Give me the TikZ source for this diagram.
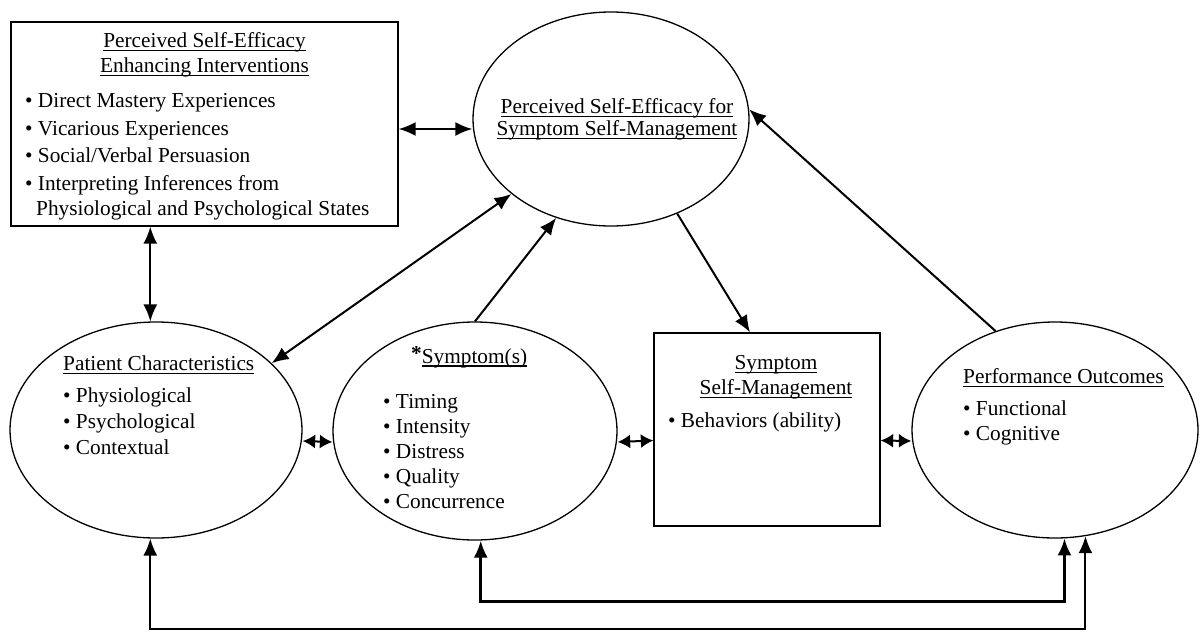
\documentclass[tikz,border=0pt]{standalone}
\usepackage{fontspec}
\setmainfont{Liberation Serif}
\usetikzlibrary{shapes.geometric,arrows.meta}
\newcommand{\fsz}[1]{\fontsize{21.3}{#1}\selectfont}
\newcommand{\ulc}[1]{\setbox0\hbox{#1}\rlap{\rule[-3.5pt]{\wd0}{1.1pt}}\box0}
\tikzset{every node/.style={inner sep=0pt,font=\fsz{25}}}
\tikzset{e/.style={ellipse,draw,line width=1.3pt}}
\tikzset{b/.style={rectangle,draw,line width=1.3pt}}
\tikzset{t/.style={align=left}}
\tikzset{arr/.style={line width=2pt,-{Latex[length=17pt,width=14pt]}}}
\tikzset{dbl/.style={line width=2pt,{Latex[length=17pt,width=14pt]}-{Latex[length=17pt,width=14pt]}}}
\tikzset{sdbl/.style={line width=2pt,{Latex[length=12.5pt,width=14pt]}-{Latex[length=12.5pt,width=14pt]}}}

\begin{document}
\begin{tikzpicture}[x=1pt,y=-1pt]
  \useasboundingbox (0,0) rectangle (1201,632);
  \node[b,minimum width=387pt,minimum height=204pt] (pei) at (204.5,124) {};
  \node[e,minimum width=276pt,minimum height=214pt] (pse) at (611,119) {};
  \node[e,minimum width=292pt,minimum height=216pt] (pat) at (156,430) {};
  \node[e,minimum width=284pt,minimum height=218pt] (sym) at (475,431) {};
  \node[b,minimum width=226pt,minimum height=193pt] (ssm) at (767,429.5) {};
  \node[e,minimum width=286pt,minimum height=216pt] (po) at (1055,430) {};

  \node[t,align=center,anchor=north] (peiH) at (204.5,32.5) {\ulc{Perceived Self-Efficacy}\\\ulc{Enhancing Interventions}};
  \node[t,anchor=north west,font=\fsz{27.5}] (peiL) at (25,93.5) {\textbullet\ Direct Mastery Experiences\\\textbullet\ Vicarious Experiences\\\textbullet\ Social/Verbal Persuasion\\\textbullet\ Interpreting Inferences from\\[-2.5pt]\hspace*{11pt}Physiological and Psychological States};
  \node[t,align=center,anchor=north,font=\fsz{22}] (pseT) at (617,98.5) {\ulc{Perceived Self-Efficacy for}\\\ulc{Symptom Self-Management}};
  \node[t,anchor=north west,font=\fsz{26}] (patT) at (63,355.5) {\ulc{Patient Characteristics}\\[6pt]\textbullet\ Physiological\\\textbullet\ Psychological\\\textbullet\ Contextual};
  \node[anchor=base west] (symH) at (411,363) {\raisebox{3pt}{\bfseries*}\ulc{Symptom(s)}};
  \node[t,anchor=north west] (symL) at (383,394) {\textbullet\ Timing\\\textbullet\ Intensity\\\textbullet\ Distress\\\textbullet\ Quality\\\textbullet\ Concurrence};
  \node[t,align=center,anchor=north] (ssmH) at (776,355.5) {\ulc{Symptom}\\\ulc{Self-Management}};
  \node[anchor=base west] (ssmL) at (668,427) {\textbullet\ Behaviors (ability)};
  \node[t,anchor=north west] (poT) at (963,368.5) {\ulc{Performance Outcomes}\\[7pt]\textbullet\ Functional\\\textbullet\ Cognitive};

  \draw[dbl] ([yshift=-5pt]pei.east) -- ([yshift=-10pt]pse.west);
  \draw[dbl] (pat.93 |- pei.south) -- (pat.93);
  \draw[dbl] (pat.30) -- (pse.217);
  \draw[arr] (sym.north) -- (pse.241);
  \draw[arr] (pse.305) -- ([xshift=-17pt]ssm.north);
  \draw[arr] (po.121) -- (pse.4);
  \draw[sdbl] ([yshift=-11pt]pat.east) -- ([yshift=-11pt]sym.west);
  \draw[sdbl] ([yshift=-11pt]sym.east) -- ([yshift=-11pt]ssm.west);
  \draw[sdbl] ([yshift=-11pt]ssm.east) -- ([yshift=-11pt]po.west);
  \draw[dbl] (pat.-93) -- ++(0,90) -| (po.-74);
  \draw[dbl,line width=2.8pt] (sym.-87) -- ++(0,61) -| (po.-85);
\end{tikzpicture}
\end{document}
